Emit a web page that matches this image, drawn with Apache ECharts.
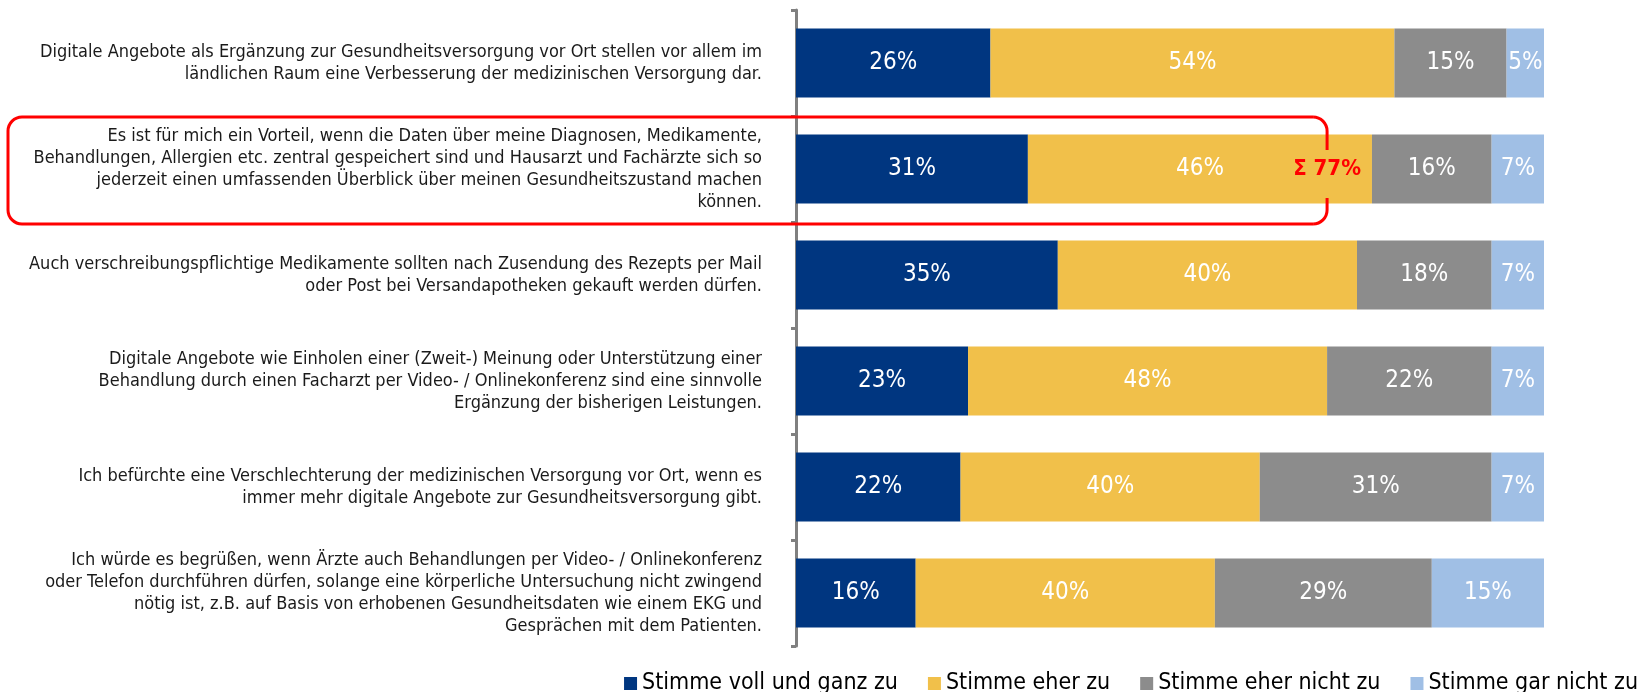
<!DOCTYPE html>
<html>
<head>
<meta charset="utf-8">
<script src="https://cdn.jsdelivr.net/npm/echarts@6/dist/echarts.min.js"></script>
<style>
  html, body { margin: 0; padding: 0; background: #fff; }
  #chart { width: 1645px; height: 692px; }
</style>
</head>
<body>
<div id="chart"></div>
<script>
var statements = [
    'Digitale Angebote als Ergänzung zur Gesundheitsversorgung vor Ort stellen vor allem im\nländlichen Raum eine Verbesserung der medizinischen Versorgung dar.',
    'Es ist für mich ein Vorteil, wenn die Daten über meine Diagnosen, Medikamente,\nBehandlungen, Allergien etc. zentral gespeichert sind und Hausarzt und Fachärzte sich so\njederzeit einen umfassenden Überblick über meinen Gesundheitszustand machen\nkönnen.',
    'Auch verschreibungspflichtige Medikamente sollten nach Zusendung des Rezepts per Mail\noder Post bei Versandapotheken gekauft werden dürfen.',
    'Digitale Angebote wie Einholen einer (Zweit-) Meinung oder Unterstützung einer\nBehandlung durch einen Facharzt per Video- / Onlinekonferenz sind eine sinnvolle\nErgänzung der bisherigen Leistungen.',
    'Ich befürchte eine Verschlechterung der medizinischen Versorgung vor Ort, wenn es\nimmer mehr digitale Angebote zur Gesundheitsversorgung gibt.',
    'Ich würde es begrüßen, wenn Ärzte auch Behandlungen per Video- / Onlinekonferenz\noder Telefon durchführen dürfen, solange eine körperliche Untersuchung nicht zwingend\nnötig ist, z.B. auf Basis von erhobenen Gesundheitsdaten wie einem EKG und\nGesprächen mit dem Patienten.'
];
var seriesNames = ['Stimme voll und ganz zu', 'Stimme eher zu', 'Stimme eher nicht zu', 'Stimme gar nicht zu'];
var fullAgree = [26, 31, 35, 23, 22, 16];
var ratherAgree = [54, 46, 40, 48, 40, 40];
var ratherNot = [15, 16, 18, 22, 31, 29];
var notAtAll = [5, 7, 7, 7, 7, 15];

var colors = ['#003680', '#f1c04a', '#8c8c8c', '#a0bfe5'];
var font = "'DejaVu Sans Condensed', 'DejaVu Sans', sans-serif";

// hervorgehobene Zeile (Index) und Summe der Zustimmung
var highlightRow = 1;
var agreeSum = fullAgree[highlightRow] + ratherAgree[highlightRow];

function makeSeries(name, data, color) {
    return {
        name: name,
        type: 'bar',
        stack: 'total',
        barWidth: '65%',
        itemStyle: { color: color },
        label: {
            show: true,
            position: 'inside',
            formatter: '{c}%',
            color: '#fff',
            fontFamily: font,
            fontSize: 24
        },
        data: data
    };
}

var chart = echarts.init(document.getElementById('chart'));
chart.setOption({
    animation: false,
    textStyle: { fontFamily: font },
    grid: { left: 796, right: 101, top: 10, bottom: 46 },
    legend: {
        top: 667,
        right: 2,
        icon: 'rect',
        itemWidth: 13,
        itemHeight: 13,
        itemGap: 30,
        textStyle: { fontFamily: font, fontSize: 23, color: '#000' },
        data: seriesNames
    },
    xAxis: { type: 'value', min: 0, max: 100, show: false },
    yAxis: {
        type: 'category',
        inverse: true,
        data: statements,
        axisLine: { show: true, lineStyle: { color: '#808080', width: 3 } },
        axisTick: { show: true, length: 5, lineStyle: { color: '#808080', width: 3 } },
        axisLabel: {
            margin: 34,
            align: 'right',
            fontFamily: font,
            fontSize: 18,
            lineHeight: 22,
            padding: [4, 0, 0, 0],
            color: '#1a1a1a'
        }
    },
    series: [
        makeSeries(seriesNames[0], fullAgree, colors[0]),
        makeSeries(seriesNames[1], ratherAgree, colors[1]),
        makeSeries(seriesNames[2], ratherNot, colors[2]),
        makeSeries(seriesNames[3], notAtAll, colors[3])
    ]
});

// roter Rahmen um die hervorgehobene Aussage, rechts offen für das Summenlabel
var c0 = chart.convertToPixel({ yAxisIndex: 0 }, 0);
var c1 = chart.convertToPixel({ yAxisIndex: 0 }, highlightRow);
var band = Math.abs(c1 - c0);
var L = 8, R = chart.convertToPixel({ xAxisIndex: 0 }, 71);
var T = c1 - band / 2 + 1, B = c1 + band / 2 + 2, r = 14, gap = 24;
var cy = c1 + 5;
var red = { stroke: '#ff0000', lineWidth: 3, fill: null };

function seg(x1, y1, x2, y2) {
    return { type: 'line', shape: { x1: x1, y1: y1, x2: x2, y2: y2 }, style: red, z: 100 };
}
function corner(cx, cyy, a0, a1) {
    return { type: 'arc', shape: { cx: cx, cy: cyy, r: r, startAngle: a0, endAngle: a1, clockwise: true }, style: red, z: 100 };
}

chart.setOption({
    graphic: [
        seg(R - r, T, L + r, T),
        seg(L, T + r, L, B - r),
        seg(L + r, B, R - r, B),
        seg(R, T + r, R, cy - gap),
        seg(R, cy + gap, R, B - r),
        corner(L + r, T + r, Math.PI, Math.PI * 1.5),
        corner(R - r, T + r, Math.PI * 1.5, Math.PI * 2),
        corner(R - r, B - r, 0, Math.PI / 2),
        corner(L + r, B - r, Math.PI / 2, Math.PI),
        {
            type: 'text',
            x: R,
            y: c1,
            style: {
                text: 'Σ ' + agreeSum + '%',
                fill: '#ff0000',
                font: 'bold 22px ' + font,
                align: 'center',
                verticalAlign: 'middle'
            },
            z: 101
        }
    ]
});
</script>
</body>
</html>
